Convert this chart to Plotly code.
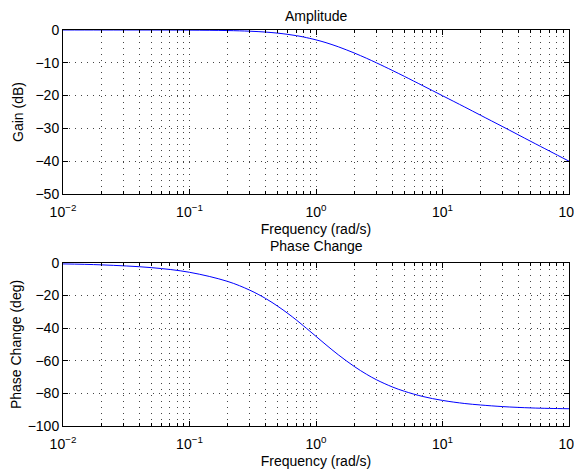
import plotly.graph_objects as go

freq = [0.01, 0.02, 0.05, 0.1, 0.2, 0.3, 0.4, 0.5, 0.6, 0.7, 0.8, 1.0, 1.2, 1.5, 2.0, 2.5, 3.0, 4.0, 5.0, 7.0, 10.0, 15.0, 20.0, 30.0, 50.0, 70.0, 100.0]
gain_db = [-0.0004, -0.0017, -0.011, -0.043, -0.17, -0.37, -0.64, -0.97, -1.34, -1.73, -2.15, -3.01, -3.87, -5.12, -6.99, -8.6, -10.0, -12.3, -14.15, -17.0, -20.04, -23.5, -26.0, -29.5, -33.98, -36.9, -40.0]
phase_deg = [-0.57, -1.15, -2.86, -5.71, -11.3, -16.7, -21.8, -26.6, -31.0, -35.0, -38.7, -45.0, -50.2, -56.3, -63.4, -68.2, -71.6, -76.0, -78.7, -81.9, -84.3, -86.2, -87.1, -88.1, -88.9, -89.2, -89.4]
x_tick_vals = [0.01, 0.1, 1, 10, 100]
x_tick_text = ["10<sup>−2</sup>", "10<sup>−1</sup>", "10<sup>0</sup>", "10<sup>1</sup>", "10<sup>2</sup>"]
x_minor_vals = [m * d for d in [0.01, 0.1, 1, 10] for m in range(2, 10)]

font = dict(family="Liberation Sans, Arial, sans-serif", size=14, color="black")
tfont = dict(family="Liberation Sans, Arial, sans-serif", size=14, color="black")

fig = go.Figure()
fig.add_trace(go.Scatter(x=freq, y=gain_db, mode="lines", line=dict(color="#0000ff", width=1, shape="spline"), xaxis="x", yaxis="y"))
fig.add_trace(go.Scatter(x=freq, y=phase_deg, mode="lines", line=dict(color="#0000ff", width=1, shape="spline"), xaxis="x2", yaxis="y2"))

grid = dict(showgrid=True, gridcolor="#444444", griddash="1px,5px", gridwidth=1)
xcommon = dict(type="log", range=[-2, 2], tickmode="array", tickvals=x_tick_vals, ticktext=x_tick_text, showline=True,
               linecolor="black", linewidth=1, mirror="ticks", ticks="inside", ticklen=5, tickcolor="black", zeroline=False,
               tickfont=tfont, automargin=False, ticklabelstandoff=5,
               minor=dict(tickmode="array", tickvals=x_minor_vals, ticks="inside", ticklen=3, tickcolor="black", **grid),
               domain=[0.0958, 0.9774], **grid)
ycommon = dict(showline=True, linecolor="black", linewidth=1, mirror="ticks", ticks="inside", ticklen=5, tickcolor="black",
               zeroline=False, tickfont=tfont, automargin=False, **grid)

fig.update_layout(
    width=574, height=462, margin=dict(l=0, r=0, t=0, b=0, autoexpand=False),
    paper_bgcolor="white", plot_bgcolor="white", showlegend=False, font=font,
    xaxis=dict(xcommon, anchor="y", title=dict(text="Frequency (rad/s)", font=font, standoff=5)),
    yaxis=dict(ycommon, range=[-50, 0], dtick=10, domain=[0.5974, 0.9524], anchor="x",
               title=dict(text="Gain (dB)", font=font, standoff=8)),
    xaxis2=dict(xcommon, anchor="y2", title=dict(text="Frequency (rad/s)", font=font, standoff=5)),
    yaxis2=dict(ycommon, range=[-100, 0], dtick=20, domain=[0.0952, 0.4481], anchor="x2",
                title=dict(text="Phase Change (deg)", font=font, standoff=6)),
    annotations=[
        dict(text="Amplitude", x=0.5366, y=0.9524, xref="paper", yref="paper", xanchor="center", yanchor="bottom", showarrow=False, font=font, yshift=4),
        dict(text="Phase Change", x=0.5366, y=0.4481, xref="paper", yref="paper", xanchor="center", yanchor="bottom", showarrow=False, font=font, yshift=7),
    ],
)

fig.write_html("out.html")
